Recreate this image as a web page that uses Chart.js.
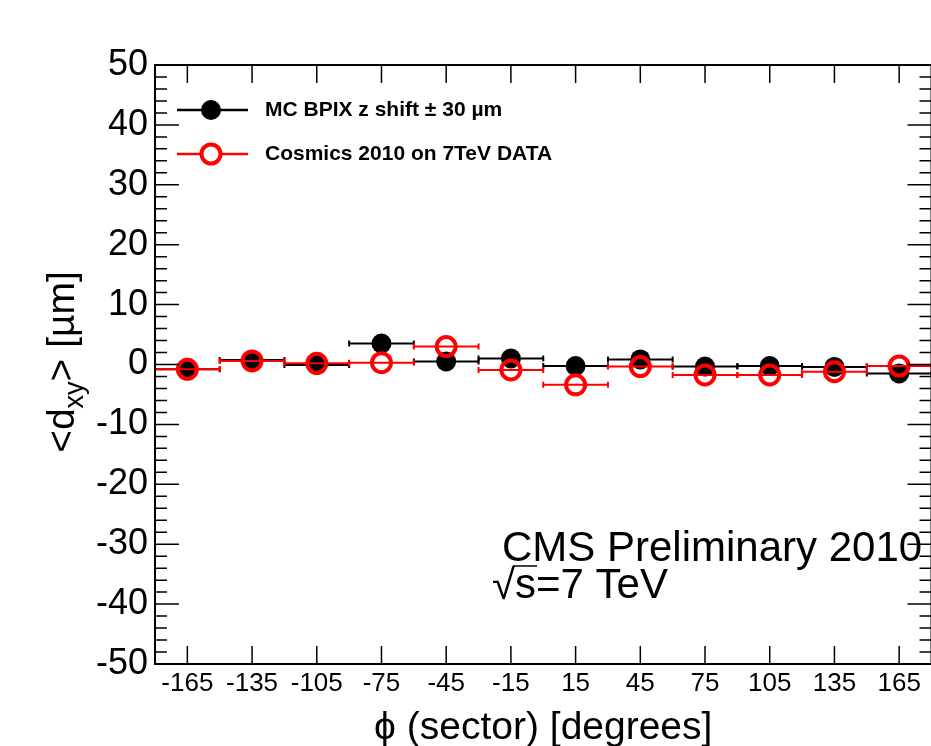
<!DOCTYPE html>
<html>
<head>
<meta charset="utf-8">
<script src="https://cdn.jsdelivr.net/npm/chart.js@4.4.1/dist/chart.umd.min.js"></script>
<style>
  html, body { margin: 0; padding: 0; background: #fff; overflow: hidden; }
  #wrap { width: 945px; height: 746px; }
</style>
</head>
<body>
<div id="wrap"><canvas id="dxy-chart" width="945" height="746"></canvas></div>
<script>
// phi sector centres [degrees] and half width of each sector
const phiSectors = [-165, -135, -105, -75, -45, -15, 15, 45, 75, 105, 135, 165];
const sectorHalfWidth = 15;
// <d_xy> [um] per sector
const mcShift = [-0.8, 0.75, -0.1, 3.5, 0.5, 1.0, -0.25, 0.85, -0.35, -0.25, -0.4, -1.5];
const cosmics2010 = [-0.8, 0.6, 0.2, 0.3, 3.0, -0.9, -3.4, -0.35, -1.75, -1.75, -1.2, -0.25];
const xTickLabels = [-165, -135, -105, -75, -45, -15, 15, 45, 75, 105, 135, 165];
const yTickLabels = [-50, -40, -30, -20, -10, 0, 10, 20, 30, 40, 50];
const yMinorStep = 2;

const seriesNames = ["MC BPIX z shift \u00b1 30 \u00b5m", "Cosmics 2010 on 7TeV DATA"];
const FONT = "'Liberation Sans', Arial, Helvetica, sans-serif";

function toPoints(values) {
    return phiSectors.map((phi, i) => ({ x: phi, y: values[i] }));
}

// horizontal error bars (sector width), drawn under each dataset's markers
const errorBars = {
    id: 'errorBars',
    beforeDatasetDraw(chart, args) {
        const ds = chart.data.datasets[args.index];
        const xs = chart.scales.x, ys = chart.scales.y;
        const ctx = chart.ctx;
        ctx.save();
        ctx.strokeStyle = ds.barColor;
        ctx.lineWidth = 2;
        ds.data.forEach(p => {
            const x0 = xs.getPixelForValue(p.x - sectorHalfWidth);
            const x1 = xs.getPixelForValue(p.x + sectorHalfWidth);
            const y = ys.getPixelForValue(p.y);
            ctx.beginPath();
            ctx.moveTo(x0, y); ctx.lineTo(x1, y);
            ctx.moveTo(x0, y - 3); ctx.lineTo(x0, y + 3);
            ctx.moveTo(x1, y - 3); ctx.lineTo(x1, y + 3);
            ctx.stroke();
        });
        ctx.restore();
    }
};

// ROOT style frame, inward ticks, legend and labels
const rootFrame = {
    id: 'rootFrame',
    afterDraw(chart) {
        const ctx = chart.ctx;
        const a = chart.chartArea;
        const xs = chart.scales.x, ys = chart.scales.y;
        ctx.save();
        ctx.strokeStyle = '#000';
        ctx.lineWidth = 2;
        ctx.strokeRect(a.left, a.top, a.right - a.left, a.bottom - a.top);

        ctx.lineWidth = 1.5;
        ctx.beginPath();
        for (let v = ys.min; v <= ys.max + 0.001; v += yMinorStep) {
            const y = ys.getPixelForValue(v);
            const len = (Math.abs(v % 10) < 0.001) ? 24 : 12;
            ctx.moveTo(a.left, y); ctx.lineTo(a.left + len, y);
            ctx.moveTo(a.right, y); ctx.lineTo(a.right - len, y);
        }
        xTickLabels.forEach(v => {
            const x = xs.getPixelForValue(v);
            ctx.moveTo(x, a.bottom); ctx.lineTo(x, a.bottom - 18);
            ctx.moveTo(x, a.top); ctx.lineTo(x, a.top + 18);
        });
        ctx.stroke();

        // legend, MC first
        const rows = [110, 154];
        seriesNames.forEach((name, i) => {
            const ds = chart.data.datasets.find(d => d.label === name);
            const y = rows[i];
            ctx.strokeStyle = ds.barColor;
            ctx.lineWidth = 2.5;
            ctx.beginPath();
            ctx.moveTo(177, y); ctx.lineTo(248, y);
            ctx.stroke();
            ctx.beginPath();
            ctx.arc(211, y, ds.pointRadius, 0, Math.PI * 2);
            if (ds.pointBackgroundColor !== 'transparent') {
                ctx.fillStyle = ds.pointBackgroundColor;
                ctx.fill();
            } else {
                ctx.fillStyle = '#fff';
                ctx.fill();
                ctx.lineWidth = ds.pointBorderWidth;
                ctx.strokeStyle = ds.pointBorderColor;
                ctx.stroke();
            }
            ctx.fillStyle = '#000';
            ctx.font = 'bold 21px ' + FONT;
            ctx.textBaseline = 'middle';
            ctx.textAlign = 'left';
            ctx.fillText(ds.label, 265, y);
        });

        // y axis title with subscript
        ctx.save();
        ctx.translate(74, 362);
        ctx.rotate(-Math.PI / 2);
        ctx.fillStyle = '#000';
        ctx.textBaseline = 'alphabetic';
        const big = '39px ' + FONT, small = '27px ' + FONT;
        ctx.font = big;
        const w1 = ctx.measureText('<d').width;
        const w3 = ctx.measureText('> [\u00b5m]').width;
        ctx.font = small;
        const w2 = ctx.measureText('xy').width;
        let x = -(w1 + w2 + w3) / 2;
        ctx.font = big; ctx.fillText('<d', x, 0); x += w1;
        ctx.font = small; ctx.fillText('xy', x, 9); x += w2;
        ctx.font = big; ctx.fillText('> [\u00b5m]', x, 0);
        ctx.restore();

        // CMS label
        ctx.fillStyle = '#000';
        ctx.textAlign = 'left';
        ctx.textBaseline = 'alphabetic';
        ctx.font = '42px ' + FONT;
        ctx.fillText('CMS Preliminary 2010', 502, 561);
        ctx.fillText('\u221a', 492, 599);
        const rw = ctx.measureText('\u221a').width;
        ctx.fillText('s=7 TeV', 492 + rw, 598);
        ctx.lineWidth = 1.5;
        ctx.strokeStyle = '#000';
        ctx.beginPath();
        ctx.moveTo(492 + rw - 2, 566);
        ctx.lineTo(492 + rw + ctx.measureText('s').width + 1, 566);
        ctx.stroke();
        ctx.restore();
    }
};

function start() {
    const ctx = document.getElementById('dxy-chart').getContext('2d');
    new Chart(ctx, {
        type: 'scatter',
        data: {
            datasets: [{
                label: seriesNames[1],
                data: toPoints(cosmics2010),
                barColor: '#ff0000',
                pointRadius: 9.5,
                pointHoverRadius: 9.5,
                pointBackgroundColor: 'transparent',
                pointBorderColor: '#ff0000',
                pointBorderWidth: 4,
                showLine: false,
                order: 0
            }, {
                label: seriesNames[0],
                data: toPoints(mcShift),
                barColor: '#000000',
                pointRadius: 10,
                pointHoverRadius: 10,
                pointBackgroundColor: '#000000',
                pointBorderColor: '#000000',
                pointBorderWidth: 0,
                showLine: false,
                order: 1
            }]
        },
        options: {
            responsive: false,
            animation: false,
            events: [],
            layout: { padding: { top: 65, right: 8, left: 0, bottom: 0 } },
            plugins: { legend: { display: false }, tooltip: { enabled: false } },
            scales: {
                x: {
                    type: 'linear',
                    min: -180,
                    max: 180,
                    grid: { display: false, drawTicks: false },
                    border: { display: false },
                    afterBuildTicks: axis => { axis.ticks = xTickLabels.map(v => ({ value: v })); },
                    afterFit: axis => { axis.height = 82; },
                    ticks: {
                        color: '#000',
                        padding: 4,
                        maxRotation: 0,
                        autoSkip: false,
                        font: { family: FONT, size: 26 }
                    },
                    title: {
                        display: true,
                        text: '\u03d5 (sector) [degrees]',
                        color: '#000',
                        font: { family: FONT, size: 39, lineHeight: 1 },
                        padding: { top: 0, bottom: -2 }
                    }
                },
                y: {
                    min: -50,
                    max: 50,
                    grid: { display: false, drawTicks: false },
                    border: { display: false },
                    afterBuildTicks: axis => { axis.ticks = yTickLabels.map(v => ({ value: v })); },
                    afterFit: axis => { axis.width = 155; },
                    ticks: {
                        color: '#000',
                        padding: 7,
                        font: { family: FONT, size: 36 }
                    }
                }
            }
        },
        plugins: [errorBars, rootFrame]
    });
}

window.addEventListener('load', start, false);
</script>
</body>
</html>
